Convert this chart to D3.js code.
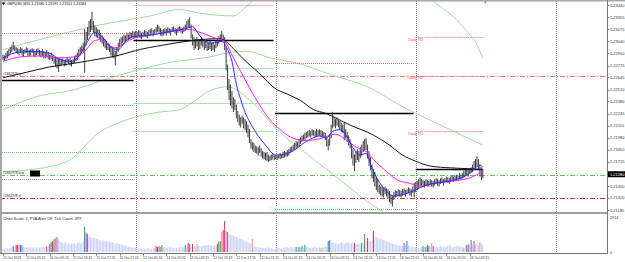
<!DOCTYPE html>
<html><head><meta charset="utf-8">
<script src="https://cdn.jsdelivr.net/npm/d3@7"></script>
<style>
html,body{margin:0;padding:0;background:#fff;overflow:hidden;}
svg{display:block;font-family:"Liberation Sans",Arial,sans-serif;}
</style></head><body>
<svg id="c" width="625" height="262"></svg>
<script>
// ---------------- DATA ----------------
const symbolTitle = "GBPUSD,M15  1.21580 1.21591 1.21552 1.21584";
const subTitle = "Chart Scale: 2,  PVA Alert Off,  Tick Count: 397";
const highs = [
// 11 Oct
1.2289,1.2288,1.2291,1.2293,1.2295,1.2297,1.2299,1.2303,1.2299,1.2297,
1.2296,1.2295,1.2297,1.2296,1.2294,1.2295,1.2297,1.2296,1.2294,1.2295,
1.2296,1.2295,1.2293,1.2295,1.2296,1.2294,1.2293,1.2295,1.2293,1.2292,
1.2294,1.2292,1.2289,1.2291,1.2288,1.2287,1.2285,1.2286,1.2284,1.2286,
1.2284,1.2285,1.2283,1.2284,1.2286,1.2284,1.2285,1.2283,1.2284,1.2287,
1.2289,1.2291,1.2295,1.2297,1.2299,1.2302,1.2317,1.2314,1.2319,1.2326,
1.2328,1.2336,1.2326,1.2321,1.2319,1.2317,1.2316,1.2313,1.2310,1.2308,
1.2306,1.2304,1.2302,1.2300,1.2298,1.2297,1.2295,1.2293,1.2297,1.2302,
1.2306,1.2308,1.2309,1.2311,1.2310,1.2313,1.2311,1.2314,1.2313,1.2315,
1.2314,
// 12 Oct
1.2315,1.2314,1.2316,1.2315,1.2313,1.2314,1.2316,1.2315,1.2314,1.2316,
1.2317,1.2318,1.2316,1.2317,1.2319,1.2322,1.2320,1.2318,1.2316,1.2317,
1.2318,1.2317,1.2319,1.2318,1.2317,1.2319,1.2320,1.2318,1.2317,1.2319,
1.2320,1.2319,1.2318,1.2320,1.2322,1.2326,1.2328,1.2330,1.2322,1.2311,
1.2308,1.2306,1.2308,1.2306,1.2304,1.2308,1.2306,1.2304,1.2305,1.2303,
1.2302,1.2304,1.2302,1.2303,1.2300,1.2304,1.2306,1.2309,1.2311,1.2315,
1.2311,1.2308,1.2297,1.2278,1.2262,1.2256,1.2249,1.2242,1.2240,1.2234,
1.2227,1.2223,1.2220,1.2222,1.2220,1.2218,1.2216,1.2212,1.2207,1.2196,
1.2193,1.2192,1.2189,1.2188,1.2187,1.2189,1.2186,1.2183,1.2182,1.2181,
1.2182,1.2179,1.2178,1.2179,1.2181,1.2178,
// 13 Oct
1.2179,1.2178,1.2179,1.2181,1.2179,1.2182,1.2183,1.2182,1.2184,1.2185,
1.2187,1.2188,1.2190,1.2192,1.2194,1.2193,1.2196,1.2198,1.2200,1.2201,
1.2203,1.2204,1.2205,1.2206,1.2205,1.2207,1.2206,1.2205,1.2207,1.2206,
1.2207,1.2206,1.2205,1.2204,1.2203,1.2199,1.2196,1.2201,1.2212,1.2226,
1.2220,1.2218,1.2220,1.2217,1.2216,1.2214,1.2212,1.2215,1.2207,1.2204,
1.2200,1.2196,1.2190,1.2185,1.2179,1.2183,1.2185,1.2183,1.2187,1.2190,
1.2194,1.2196,1.2197,1.2190,1.2183,1.2176,1.2168,1.2163,1.2160,1.2154,
1.2152,1.2146,1.2144,1.2145,1.2143,1.2144,1.2142,1.2141,1.2139,1.2135,
1.2134,1.2138,1.2140,1.2139,1.2141,1.2140,1.2139,1.2141,1.2142,1.2140,
1.2141,1.2143,1.2142,1.2141,1.2144,1.2148,
// 16 Oct
1.2149,1.2150,1.2152,1.2154,1.2152,1.2151,1.2150,1.2152,1.2151,1.2150,
1.2152,1.2151,1.2150,1.2152,1.2153,1.2152,1.2151,1.2153,1.2154,1.2152,
1.2153,1.2155,1.2154,1.2153,1.2155,1.2156,1.2155,1.2156,1.2157,1.2156,
1.2159,1.2157,1.2159,1.2161,1.2162,1.2163,1.2162,1.2164,1.2165,1.2168,
1.2172,1.2174,1.2177,1.2174,1.2168,1.2165,1.2163
];
const lows = [
// 11 Oct
1.2284,1.2283,1.2285,1.2286,1.2288,1.2291,1.2293,1.2295,1.2294,1.2292,
1.2291,1.2289,1.2292,1.2289,1.2288,1.2291,1.2292,1.2289,1.2288,1.2289,
1.2292,1.2288,1.2287,1.2289,1.2291,1.2288,1.2287,1.2288,1.2286,1.2286,
1.2287,1.2285,1.2284,1.2285,1.2283,1.2280,1.2277,1.2275,1.2271,1.2277,
1.2278,1.2280,1.2277,1.2278,1.2281,1.2280,1.2278,1.2277,1.2280,1.2281,
1.2283,1.2284,1.2287,1.2289,1.2292,1.2293,1.2270,1.2300,1.2306,1.2311,
1.2315,1.2317,1.2314,1.2310,1.2309,1.2308,1.2306,1.2304,1.2302,1.2299,
1.2297,1.2295,1.2295,1.2293,1.2289,1.2287,1.2286,1.2278,1.2288,1.2293,
1.2298,1.2300,1.2303,1.2304,1.2305,1.2306,1.2306,1.2307,1.2308,1.2309,
1.2308,
// 12 Oct
1.2309,1.2308,1.2310,1.2308,1.2307,1.2309,1.2310,1.2309,1.2308,1.2311,
1.2311,1.2313,1.2310,1.2313,1.2314,1.2315,1.2314,1.2311,1.2310,1.2311,
1.2313,1.2311,1.2314,1.2313,1.2311,1.2315,1.2315,1.2313,1.2311,1.2314,
1.2316,1.2314,1.2313,1.2315,1.2316,1.2318,1.2320,1.2319,1.2308,1.2300,
1.2295,1.2297,1.2299,1.2295,1.2296,1.2300,1.2298,1.2295,1.2297,1.2294,
1.2295,1.2296,1.2294,1.2295,1.2293,1.2297,1.2299,1.2302,1.2304,1.2306,
1.2305,1.2295,1.2273,1.2251,1.2240,1.2234,1.2231,1.2227,1.2229,1.2220,
1.2216,1.2212,1.2210,1.2214,1.2209,1.2207,1.2204,1.2199,1.2193,1.2187,
1.2185,1.2183,1.2182,1.2181,1.2179,1.2182,1.2178,1.2176,1.2175,1.2174,
1.2173,1.2172,1.2173,1.2174,1.2175,1.2174,
// 13 Oct
1.2175,1.2174,1.2176,1.2175,1.2176,1.2176,1.2177,1.2178,1.2178,1.2179,
1.2182,1.2183,1.2185,1.2185,1.2187,1.2188,1.2189,1.2192,1.2194,1.2195,
1.2196,1.2198,1.2199,1.2200,1.2199,1.2201,1.2201,1.2199,1.2200,1.2200,
1.2201,1.2200,1.2200,1.2199,1.2196,1.2189,1.2185,1.2190,1.2198,1.2209,
1.2211,1.2209,1.2212,1.2210,1.2207,1.2205,1.2204,1.2196,1.2198,1.2194,
1.2190,1.2187,1.2176,1.2168,1.2162,1.2171,1.2174,1.2172,1.2176,1.2179,
1.2183,1.2185,1.2185,1.2176,1.2168,1.2163,1.2154,1.2150,1.2145,1.2141,
1.2139,1.2137,1.2135,1.2134,1.2133,1.2137,1.2134,1.2132,1.2128,1.2126,
1.2123,1.2130,1.2133,1.2134,1.2135,1.2134,1.2133,1.2135,1.2137,1.2134,
1.2137,1.2138,1.2135,1.2134,1.2138,1.2133,
// 16 Oct
1.2139,1.2141,1.2143,1.2145,1.2146,1.2145,1.2144,1.2146,1.2145,1.2145,
1.2148,1.2145,1.2144,1.2146,1.2148,1.2146,1.2145,1.2148,1.2149,1.2146,
1.2149,1.2150,1.2149,1.2148,1.2150,1.2151,1.2150,1.2151,1.2152,1.2151,
1.2153,1.2152,1.2154,1.2155,1.2156,1.2157,1.2156,1.2159,1.2160,1.2161,
1.2163,1.2165,1.2167,1.2163,1.2156,1.2152,1.2154
];
const volumes = [
250,280,330,300,260,330,380,
500,420,580,600,620,580,550,450,
400,380,420,350,400,380,420,330,380,400,350,420,380,400,
420,450,500,
660,830,900,1080,1160,1250,1080,900,
830,750,700,800,650,720,600,680,750,700,620,750,800,700,760,850,
2080,1580,1500,
1300,1250,1200,1150,1180,1100,1050,1000,
980,950,1000,900,880,920,850,800,830,760,700,740,680,650,620,600,560,520,500,
450,420,400,380,400,350,330,300,320,280,
300,270,250,280,300,260,250,300,330,
500,420,500,420,580,400,380,
350,330,380,400,350,330,300,350,380,400,420,380,400,
580,450,750,665,500,665,550,500,665,520,500,
450,500,550,520,580,600,550,500,480,520,560,
665,830,915,1660,1830,2575,1745,1660,
1500,1450,1400,1350,1300,1250,1200,1150,1100,1050,1000,
900,830,800,750,700,1080,
500,450,420,400,380,350,400,330,300,350,380,320,300,280,250,300,330,350,300,280,320,350,400,380,350,400,420,380,400,
415,380,415,400,500,420,580,450,400,380,
350,380,400,420,380,350,400,330,380,420,450,500,
915,1000,
800,750,780,700,720,680,750,800,720,700,760,820,780,700,740,800,
750,700,680,720,750,750,800,1500,900,1160,950,900,850,1745,
1300,1250,1200,1100,1150,1050,1000,950,900,850,800,750,700,650,600,580,550,520,500,480,
750,600,915,550,500,450,420,400,
380,330,350,300,400,
500,420,415,580,500,450,750,500,
420,380,400,450,500,420,380,400,450,500,550,480,420,400,450,500,520,480,450,420,
330,500,580,665,600,1000,650,915,700,650,600,830,700,650
];
// PVA volume signals [bar, kind]
const pvaSignals = [
[7,'risingUp'],[9,'climaxDown'],[10,'climaxDown'],[11,'weak'],[12,'risingUp'],[13,'risingUp'],
[30,'climaxDown'],[32,'risingDown'],[33,'climaxUp'],[34,'climaxDown'],[35,'climaxUp'],[36,'weak'],[37,'risingDown'],
[56,'climaxUp'],[57,'risingUp'],[58,'risingDown'],
[105,'climaxDown'],[106,'climaxDown'],[107,'risingUp'],[108,'weak'],[109,'climaxUp'],
[125,'climaxUp'],[127,'climaxDown'],[128,'risingDown'],[130,'climaxDown'],[133,'weak'],
[147,'climaxDown'],[148,'climaxUp'],[149,'climaxUp'],[150,'weak'],[151,'climaxDown'],[152,'climaxDown'],[153,'weak'],[154,'risingDown'],
[171,'weak'],[201,'climaxUp'],[203,'risingUp'],[205,'climaxUp'],[207,'climaxUp'],
[218,'weak'],[223,'climaxUp'],[224,'risingUp'],
[241,'climaxDown'],[246,'climaxUp'],[248,'climaxUp'],[250,'climaxDown'],[254,'climaxDown'],
[275,'risingUp'],[277,'risingUp'],
[288,'climaxUp'],[290,'risingDown'],[291,'climaxUp'],[292,'risingUp'],[294,'weak'],[295,'risingDown'],
[316,'weak'],[318,'climaxUp'],[319,'risingDown'],[321,'climaxUp'],[323,'risingDown'],[327,'weak']
];
// moving averages [bar, price]
const maFast = [[0,1.2286],[10,1.2292],[21,1.2293],[32,1.2291],[39,1.2284],[47,1.2282],[53,1.2290],[58,1.2304],[63,1.2314],[68,1.2309],[73,1.2299],[79,1.2295],[84,1.2304],[89,1.2309],[101,1.2311],[115,1.2315],[125,1.2318],[130,1.2320],[135,1.2310],[143,1.2302],[150,1.2304],[154,1.2295],[157,1.2282],[160,1.2257],[163,1.2240],[166,1.2226],[169,1.2216],[173,1.2205],[180,1.2190],[187,1.2179],[197,1.2182],[207,1.2193],[217,1.2200],[222,1.2198],[226,1.2205],[231,1.2207],[236,1.2199],[240,1.2187],[245,1.2179],[249,1.2181],[253,1.2165],[257,1.2152],[262,1.2141],[268,1.2134],[275,1.2136],[282,1.2140],[290,1.2146],[300,1.2149],[310,1.2152],[318,1.2157],[324,1.2165],[327,1.2168],[329,1.2166]];
const maMid = [[0,1.2282],[12,1.2287],[25,1.2288],[39,1.2286],[49,1.2287],[56,1.2293],[62,1.2304],[67,1.2306],[73,1.2299],[78,1.2297],[84,1.2303],[89,1.2307],[101,1.2311],[115,1.2315],[128,1.2317],[135,1.2314],[145,1.2308],[152,1.2304],[157,1.2289],[163,1.2271],[169,1.2253],[176,1.2234],[183,1.2218],[190,1.2207],[197,1.2199],[207,1.2195],[217,1.2197],[228,1.2202],[235,1.2196],[242,1.2188],[249,1.2183],[256,1.2171],[263,1.2161],[270,1.2152],[279,1.2148],[286,1.2145],[297,1.2148],[310,1.2151],[320,1.2154],[329,1.2161]];
const maSlow = [[0,1.2264],[16,1.2270],[32,1.2276],[49,1.2280],[60,1.2283],[80,1.2289],[91,1.2294],[110,1.2300],[130,1.2305],[148,1.2307],[152,1.2305],[158,1.2296],[164,1.2286],[170,1.2277],[175,1.2270],[180,1.2262],[186,1.2253],[195,1.2246],[204,1.2239],[213,1.2229],[221,1.2225],[238,1.2212],[254,1.2201],[265,1.2190],[274,1.2179],[282,1.2173],[293,1.2167],[307,1.2165],[320,1.2164],[329,1.2163]];
const bandUpper = [[0,1.2295],[25,1.2306],[66,1.2322],[101,1.2332],[121,1.2339],[135,1.2335],[158,1.2332],[166,1.2341],[171,1.2348],[180,1.2363],[200,1.2383],[230,1.2389],[250,1.2383],[270,1.2370],[280,1.2361],[293,1.2350],[301,1.2341],[309,1.2331],[317,1.2317],[324,1.2303],[329,1.2286]];
const bandMid = [[0,1.2229],[25,1.2244],[49,1.2251],[66,1.2260],[89,1.2271],[115,1.2281],[142,1.2287],[156,1.2292],[167,1.2293],[183,1.2286],[204,1.2279],[224,1.2268],[254,1.2251],[272,1.2234],[300,1.2212],[329,1.2190]];
const bandLower = [[0,1.2161],[18,1.2163],[44,1.2172],[66,1.2204],[85,1.2218],[106,1.2226],[121,1.2229],[130,1.2237],[142,1.2250],[154,1.2254],[169,1.2240],[188,1.2207],[211,1.2177],[231,1.2152],[248,1.2130],[263,1.2114],[285,1.2092],[329,1.2086]];
// daily levels
const dayStart = [-2, 89.5, 186.5, 283];
const dayEnd   = [89.5, 185.5, 281.5, 329];
const dayOpenBars = [91, 187, 283, 379];
const dailyPivot = [1.22616, 1.23055, 1.22253, 1.21638];
const resistLevels = [[0,1.23132,''],[1,1.23440,''],[2,1.22803,''],[3,1.23088,'Daily R3'],[3,1.22660,'Daily R2'],[3,1.22055,'Daily R1']];
const supportLevels = [[0,1.22341],[0,1.21825],[0,1.21528],[1,1.22748],[1,1.22363],[1,1.22055],[2,1.21198]];
const orderLines = [["#1842978 tp",1.22660,'tp'],["#1842978 buy",1.21572,'buy'],["#1842978 sl",1.21319,'sl']];
const priceTicks = [1.23440,1.23305,1.23175,1.23040,1.22910,1.22775,1.22645,1.22510,1.22380,1.22245,1.22115,1.21980,1.21850,1.21715,1.21450,1.21320,1.21185];
const lastPrice = 1.21580;
const volTicks = [2914, 0];
const timeLabelBars = [0,16,32,48,64,80,96,112,128,144,160,176,192,208,224,240,256,272,288,304,320];
const timeLabels = ["11 Oct 2023","11 Oct 05:15","11 Oct 09:15","11 Oct 13:15","11 Oct 17:15","11 Oct 21:15","12 Oct 01:15","12 Oct 05:15","12 Oct 09:15","12 Oct 13:15","12 Oct 17:15","12 Oct 21:15","13 Oct 01:15","13 Oct 05:15","13 Oct 09:15","13 Oct 13:15","13 Oct 17:15","13 Oct 21:15","16 Oct 01:15","16 Oct 05:15","16 Oct 09:15"];

// ---------------- DRAW ----------------
const svg = d3.select('#c');
const AX = 607, MAIN_B = 212, SUB_T = 214, SUB_B = 253;
const x = d3.scaleLinear().domain([0,412]).range([3, 3+412*1.45836]);
const y = d3.scaleLinear().domain([1.23495,1.21165]).range([0,212]);
const yv = d3.scaleLinear().domain([0,2914]).range([252,217]);

svg.append('rect').attr('width',625).attr('height',262).attr('fill','#fff');
const defs = svg.append('defs');
defs.append('clipPath').attr('id','cm').append('rect').attr('x',2).attr('y',1.5).attr('width',AX-2).attr('height',MAIN_B-1.5);
defs.append('clipPath').attr('id','cs').append('rect').attr('x',2).attr('y',SUB_T).attr('width',AX-2).attr('height',SUB_B-SUB_T);

// day separators
svg.append('g').selectAll('line').data(dayOpenBars).join('line')
  .attr('x1',d=>Math.round(x(d))+0.5).attr('x2',d=>Math.round(x(d))+0.5)
  .attr('y1',1).attr('y2',SUB_B)
  .attr('stroke','#8c8c8c').attr('stroke-width',1).attr('stroke-dasharray','1,1');

const gm = svg.append('g').attr('clip-path','url(#cm)');
const line = d3.line().x(d=>x(d[0])).y(d=>y(d[1])).curve(d3.curveMonotoneX);

// faint highlight band near the bottom of 13 Oct
gm.append('rect').attr('x',x(181)).attr('y',y(1.21225)).attr('width',x(233)-x(181)).attr('height',5).attr('fill','#eefcfc');

// envelope bands
[bandUpper, bandMid, bandLower].forEach(b=>{
  gm.append('path').attr('d',line(b)).attr('fill','none').attr('stroke','#9fdc9f').attr('stroke-width',1);
});

// daily level segments
const seg = (g, data, fn) => g.selectAll(null).data(data).join('line')
  .attr('x1',d=>x(dayStart[d[0]])).attr('x2',d=>x(dayEnd[d[0]]))
  .attr('y1',d=>Math.round(y(d[1]))+0.5).attr('y2',d=>Math.round(y(d[1]))+0.5).call(fn);
seg(gm, supportLevels, s=>s.attr('stroke','#5cc85c').attr('stroke-width',1).attr('stroke-dasharray','1,1'));
seg(gm, resistLevels, s=>s.attr('stroke','#f27070').attr('stroke-width',1).attr('stroke-dasharray','1,1'));
seg(gm, dailyPivot.map((p,i)=>[i,p]), s=>s.attr('stroke','#000').attr('stroke-width',1.6));

// order lines (full width dash-dot)
const orderColor = {tp:'#f27878', buy:'#52cf52', sl:'#e22a2a'};
gm.selectAll(null).data(orderLines).join('line')
  .attr('x1',0).attr('x2',AX-2)
  .attr('y1',d=>Math.round(y(d[1]))+0.5).attr('y2',d=>Math.round(y(d[1]))+0.5)
  .attr('stroke',d=>orderColor[d[2]]).attr('stroke-width',1)
  .attr('stroke-dasharray','5,2,1,2');

// candles (high-low bars)
gm.selectAll(null).data(highs).join('line')
  .attr('x1',(d,i)=>x(i)).attr('x2',(d,i)=>x(i))
  .attr('y1',d=>y(d)-0.5).attr('y2',(d,i)=>y(lows[i])+0.5)
  .attr('stroke','#3a3a3a').attr('stroke-width',1);

// moving averages
gm.append('path').attr('d',line(maSlow)).attr('fill','none').attr('stroke','#111').attr('stroke-width',1);
gm.append('path').attr('d',line(maMid)).attr('fill','none').attr('stroke','#ff1cff').attr('stroke-width',1);
gm.append('path').attr('d',line(maFast)).attr('fill','none').attr('stroke','#2a2aff').attr('stroke-width',1);

// labels in main window
const t = (g,txt,xx,yy,size,col,anchor)=>g.append('text').attr('x',xx).attr('y',yy).attr('font-size',size)
  .attr('fill',col).attr('text-anchor',anchor||'start').text(txt);
svg.append('path').attr('d','M1.5,2.5L5.5,2.5L3.5,5Z').attr('fill','#000');
t(svg, symbolTitle, 7, 5.3, 3.6, '#000');
orderLines.forEach(d=>{ t(svg, d[0], 3, Math.round(y(d[1]))-1, 3.3, '#222'); });
svg.append('rect').attr('x',30).attr('y',Math.round(y(orderLines[1][1]))-4.5).attr('width',10).attr('height',6).attr('fill','#000');
resistLevels.filter(d=>d[2]).forEach(d=>{ t(svg, d[2], x(dayStart[3])-7.5, y(d[1])+3.5, 4, '#f05050'); });
// shift marker
svg.append('path').attr('d',`M${x(329)+1},1.5L${x(329)+4},1.5L${x(329)+2.5},3.5Z`).attr('fill','#4a6ad0');

// volume sub-window
const kindColor = {climaxUp:'#1f9e4c', climaxDown:'#e3254c', risingUp:'#3c6fe6', risingDown:'#e626e6', weak:'#f08c8c'};
const sigMap = new Map(pvaSignals.map(d=>[d[0],d[1]]));
const gs = svg.append('g').attr('clip-path','url(#cs)');
gs.selectAll(null).data(volumes).join('line')
  .attr('x1',(d,i)=>x(i)).attr('x2',(d,i)=>x(i))
  .attr('y1',yv(0)).attr('y2',d=>yv(d))
  .attr('stroke',(d,i)=>sigMap.has(i)?kindColor[sigMap.get(i)]:'#c8d0f6')
  .attr('stroke-width',1);
t(svg, subTitle, 3, 219.5, 3.9, '#222');

// frame
svg.append('rect').attr('x',0).attr('y',0).attr('width',625).attr('height',1.5).attr('fill','#a8a8a8');
svg.append('rect').attr('x',0).attr('y',0).attr('width',2).attr('height',SUB_B).attr('fill','#a8a8a8');
svg.append('rect').attr('x',0).attr('y',MAIN_B).attr('width',AX).attr('height',2).attr('fill','#a0a0a0');
svg.append('line').attr('x1',0).attr('x2',AX).attr('y1',SUB_B+0.5).attr('y2',SUB_B+0.5).attr('stroke','#777');
svg.append('line').attr('x1',AX+0.5).attr('x2',AX+0.5).attr('y1',0).attr('y2',SUB_B+1).attr('stroke','#777');

// price axis
const ya = svg.append('g');
priceTicks.forEach(p=>{
  const yy = y(p);
  ya.append('line').attr('x1',AX).attr('x2',AX+2.5).attr('y1',Math.round(yy)+0.5).attr('y2',Math.round(yy)+0.5).attr('stroke','#777');
  t(ya, p.toFixed(5), AX+3, yy+1.5, 4, '#333');
});
ya.append('rect').attr('x',AX+1).attr('y',y(lastPrice)-3).attr('width',625-AX-1).attr('height',6).attr('fill','#000');
t(ya, lastPrice.toFixed(5), AX+3, y(lastPrice)+1.5, 4, '#fff');
volTicks.forEach(v=>{ t(ya, String(v), AX+3, yv(v)+1.5, 3.8, '#333'); });

// time axis
timeLabelBars.forEach((b,i)=>{
  const xx = x(b);
  svg.append('line').attr('x1',Math.round(xx)+0.5).attr('x2',Math.round(xx)+0.5).attr('y1',SUB_B).attr('y2',SUB_B+2.5).attr('stroke','#777');
  t(svg, timeLabels[i], xx, 259, 3.4, '#333');
});
</script>
</body></html>
